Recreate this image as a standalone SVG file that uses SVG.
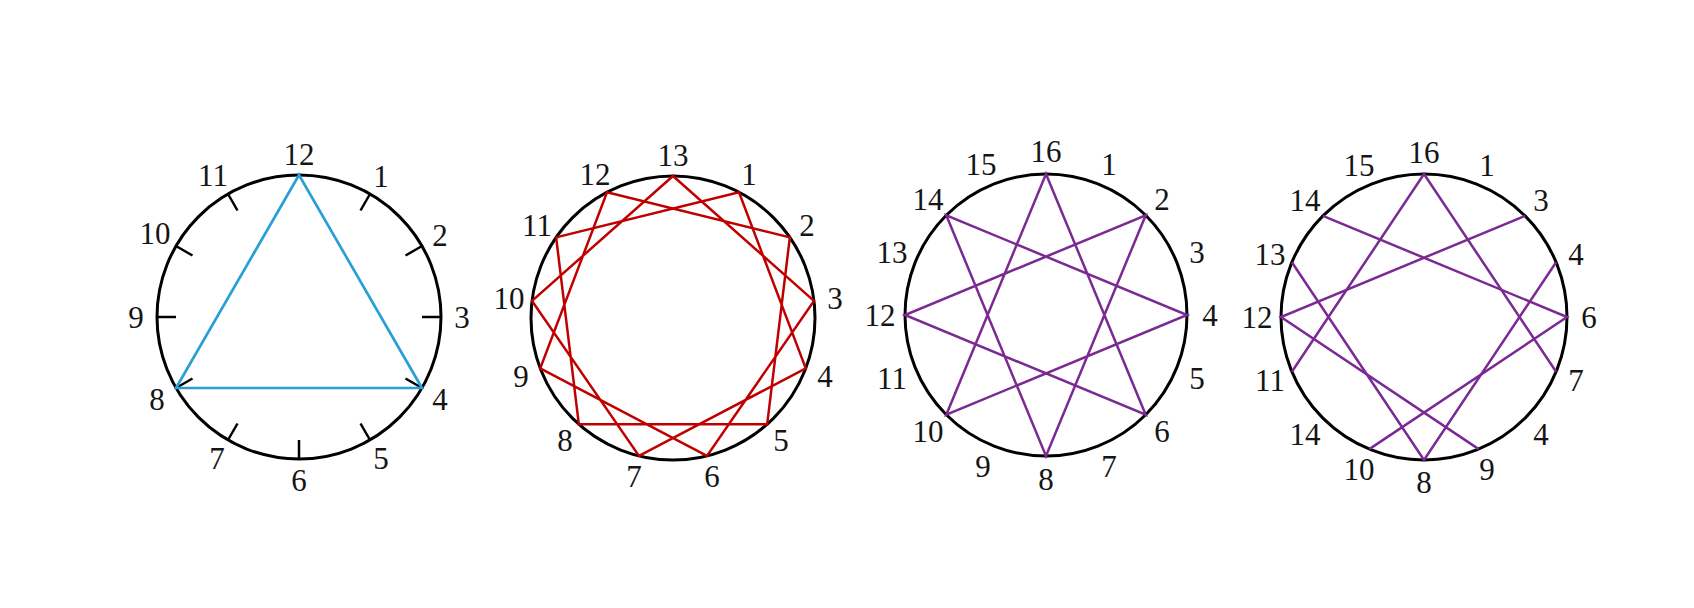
<svg xmlns="http://www.w3.org/2000/svg" width="1694" height="608" viewBox="0 0 1694 608">
<style>
.ring{fill:none;stroke:#000;stroke-width:3}
.tick{stroke:#000;stroke-width:2.5;stroke-linecap:butt}
.lbl{font-family:"Liberation Serif","DejaVu Serif",serif;font-size:31px;fill:#151515;text-anchor:middle;dominant-baseline:central}
.blue{fill:none;stroke:#2a9fd6;stroke-width:2.7;stroke-linejoin:miter}
.red{fill:none;stroke:#c00000;stroke-width:2.5;stroke-linejoin:miter}
.purple{fill:none;stroke:#7a2a92;stroke-width:2.5;stroke-linejoin:miter}
</style>
<rect width="1694" height="608" fill="#fff"/>

<g id="diagram1">
<circle class="ring" cx="299" cy="317" r="142"/>
<g id="ticks1">
<line class="tick" x1="370" y1="194" x2="360.5" y2="210.5"/>
<line class="tick" x1="422" y1="246" x2="405.5" y2="255.5"/>
<line class="tick" x1="441" y1="317" x2="422" y2="317"/>
<line class="tick" x1="422" y1="388" x2="405.5" y2="378.5"/>
<line class="tick" x1="370" y1="440" x2="360.5" y2="423.5"/>
<line class="tick" x1="299" y1="459" x2="299" y2="440"/>
<line class="tick" x1="228" y1="440" x2="237.5" y2="423.5"/>
<line class="tick" x1="176" y1="388" x2="192.5" y2="378.5"/>
<line class="tick" x1="157" y1="317" x2="176" y2="317"/>
<line class="tick" x1="176" y1="246" x2="192.5" y2="255.5"/>
<line class="tick" x1="228" y1="194" x2="237.5" y2="210.5"/>
</g>
<g id="labels1">
<text class="lbl" x="299" y="154">12</text>
<text class="lbl" x="381" y="176">1</text>
<text class="lbl" x="440" y="235">2</text>
<text class="lbl" x="462" y="317">3</text>
<text class="lbl" x="440" y="399">4</text>
<text class="lbl" x="381" y="458">5</text>
<text class="lbl" x="299" y="480">6</text>
<text class="lbl" x="217" y="458">7</text>
<text class="lbl" x="157" y="399">8</text>
<text class="lbl" x="136" y="317">9</text>
<text class="lbl" x="155" y="233">10</text>
<text class="lbl" x="213" y="175">11</text>
</g>
</g>

<g id="diagram2">
<circle class="ring" cx="673" cy="318" r="142"/>
<g id="labels2">
<text class="lbl" x="673" y="155">13</text>
<text class="lbl" x="749" y="174">1</text>
<text class="lbl" x="807" y="225">2</text>
<text class="lbl" x="835" y="298">3</text>
<text class="lbl" x="825" y="376">4</text>
<text class="lbl" x="781" y="440">5</text>
<text class="lbl" x="712" y="476">6</text>
<text class="lbl" x="634" y="476">7</text>
<text class="lbl" x="565" y="440">8</text>
<text class="lbl" x="521" y="376">9</text>
<text class="lbl" x="509" y="298">10</text>
<text class="lbl" x="537" y="225">11</text>
<text class="lbl" x="595" y="174">12</text>
</g>
</g>

<g id="diagram3">
<circle class="ring" cx="1046" cy="315" r="141"/>
<g id="labels3">
<text class="lbl" x="1046" y="151">16</text>
<text class="lbl" x="1109" y="164">1</text>
<text class="lbl" x="1162" y="199">2</text>
<text class="lbl" x="1197" y="252">3</text>
<text class="lbl" x="1210" y="315">4</text>
<text class="lbl" x="1197" y="378">5</text>
<text class="lbl" x="1162" y="431">6</text>
<text class="lbl" x="1109" y="466">7</text>
<text class="lbl" x="1046" y="479">8</text>
<text class="lbl" x="983" y="466">9</text>
<text class="lbl" x="928" y="431">10</text>
<text class="lbl" x="892" y="378">11</text>
<text class="lbl" x="880" y="315">12</text>
<text class="lbl" x="892" y="252">13</text>
<text class="lbl" x="928" y="199">14</text>
<text class="lbl" x="981" y="164">15</text>
</g>
</g>

<g id="diagram4">
<circle class="ring" cx="1424" cy="317" r="143"/>
<g id="labels4">
<text class="lbl" x="1424" y="152">16</text>
<text class="lbl" x="1487" y="165">1</text>
<text class="lbl" x="1541" y="200">3</text>
<text class="lbl" x="1576" y="254">4</text>
<text class="lbl" x="1589" y="317">6</text>
<text class="lbl" x="1576" y="380">7</text>
<text class="lbl" x="1541" y="434">4</text>
<text class="lbl" x="1487" y="469">9</text>
<text class="lbl" x="1424" y="482">8</text>
<text class="lbl" x="1359" y="469">10</text>
<text class="lbl" x="1305" y="434">14</text>
<text class="lbl" x="1270" y="380">11</text>
<text class="lbl" x="1257" y="317">12</text>
<text class="lbl" x="1270" y="254">13</text>
<text class="lbl" x="1305" y="200">14</text>
<text class="lbl" x="1359" y="165">15</text>
</g>
</g>

<g id="connectors">
<polygon class="blue" points="299,175 421.98,388 176.02,388"/>
<polygon class="red" points="673,176 813.96,300.88 706.98,455.87 540.23,368.35 607.01,192.26 789.86,237.34 767.16,424.29 578.84,424.29 556.14,237.34 738.99,192.26 805.77,368.35 639.02,455.87 532.04,300.88"/>
<polygon class="purple" points="1046,174 1145.7,414.7 905,315 1145.7,215.3 1046,456 946.3,215.3 1187,315 946.3,414.7"/>
<polyline class="purple" points="1291.89,371.72 1424,174 1556.11,371.72"/>
<polyline class="purple" points="1322.88,215.88 1567,317 1369.28,449.11"/>
<polyline class="purple" points="1291.89,262.28 1424,460 1556.11,262.28"/>
<polyline class="purple" points="1525.12,215.88 1281,317 1478.72,449.11"/>
</g>
</svg>
